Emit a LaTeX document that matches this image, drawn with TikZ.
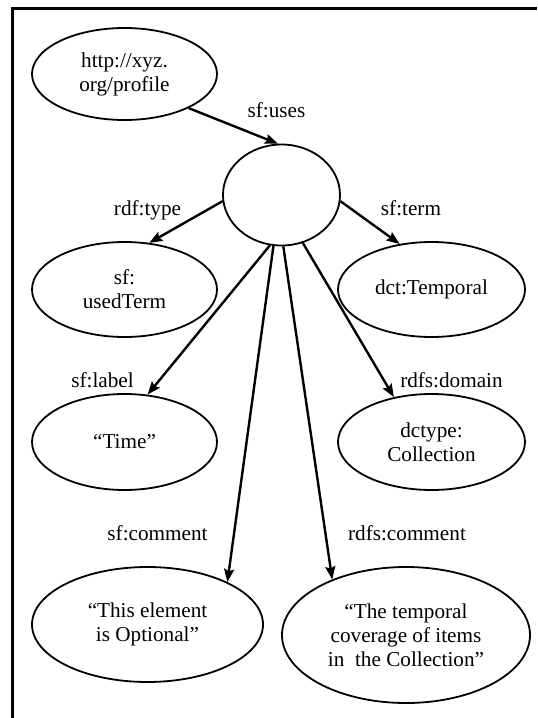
\documentclass[tikz,border=0pt]{standalone}
\usepackage{fontspec}
\setmainfont{Liberation Serif}
\usepackage{tikz}
\usetikzlibrary{shapes.geometric, arrows.meta}

\tikzset{
  term/.style={ellipse, draw, line width=0.9pt, inner sep=0pt, align=center,
               font=\fontsize{10.6}{12}\selectfont},
  prop/.style={anchor=base, inner sep=0pt, font=\fontsize{10.6}{12}\selectfont},
  link/.style={->, >={Stealth[length=6.5pt, width=5pt, inset=1pt]}, line width=1.2pt}
}

\begin{document}
\begin{tikzpicture}[x=0.5pt, y=-0.5pt]

  \useasboundingbox (0, 0) rectangle (537, 718);

  % frame
  \draw[line width=1.3pt] (537, 8.5) -- (12.5, 8.5) -- (12.5, 718);

  % resources
  \node[term, minimum width=92.5pt, minimum height=46pt] (profile) at (124.5, 74) {http://xyz.\\org/profile};
  \node[term, minimum width=58.5pt, minimum height=50.5pt] (blank) at (281.5, 195) {};
  \node[term, minimum width=92.5pt, minimum height=47.5pt] (usedterm) at (124.5, 289.5) {sf:\\usedTerm};
  \node[term, minimum width=93.5pt, minimum height=47.5pt] (temporal) at (431.5, 289.5) {dct:Temporal};
  \node[term, minimum width=92.5pt, minimum height=48pt] (time) at (124.5, 442) {“Time”};
  \node[term, minimum width=93.5pt, minimum height=48pt] (collection) at (431.5, 442) {dctype:\\Collection};
  \node[term, minimum width=115.5pt, minimum height=57.5pt] (optional) at (147.5, 624.5) {“This element\\is Optional”};
  \node[term, minimum width=124pt, minimum height=68pt] (coverage) at (406, 635) {“The temporal\\coverage of items\\in\ \ the Collection”};

  % properties
  \node[prop] (uses) at (276.5, 117) {sf:uses};
  \node[prop] (type) at (147.5, 215) {rdf:type};
  \node[prop] (termlbl) at (411, 215) {sf:term};
  \node[prop] (label) at (102.5, 387) {sf:label};
  \node[prop] (domain) at (451.5, 387) {rdfs:domain};
  \node[prop] (comment) at (157.5, 540) {sf:comment};
  \node[prop] (rdfscomment) at (407, 540) {rdfs:comment};

  % arcs
  \draw[link] (profile.-28) -- (blank.94);
  \draw[link] (blank.186) -- (usedterm.62);
  \draw[link] (blank.-6) -- (temporal.125);
  \draw[link] (blank.257) -- (time.64);
  \draw[link] (blank.-66) -- (collection.130);
  \draw[link] (blank.261) -- (optional.28);
  \draw[link] (blank.272) -- (coverage.143);

\end{tikzpicture}
\end{document}
